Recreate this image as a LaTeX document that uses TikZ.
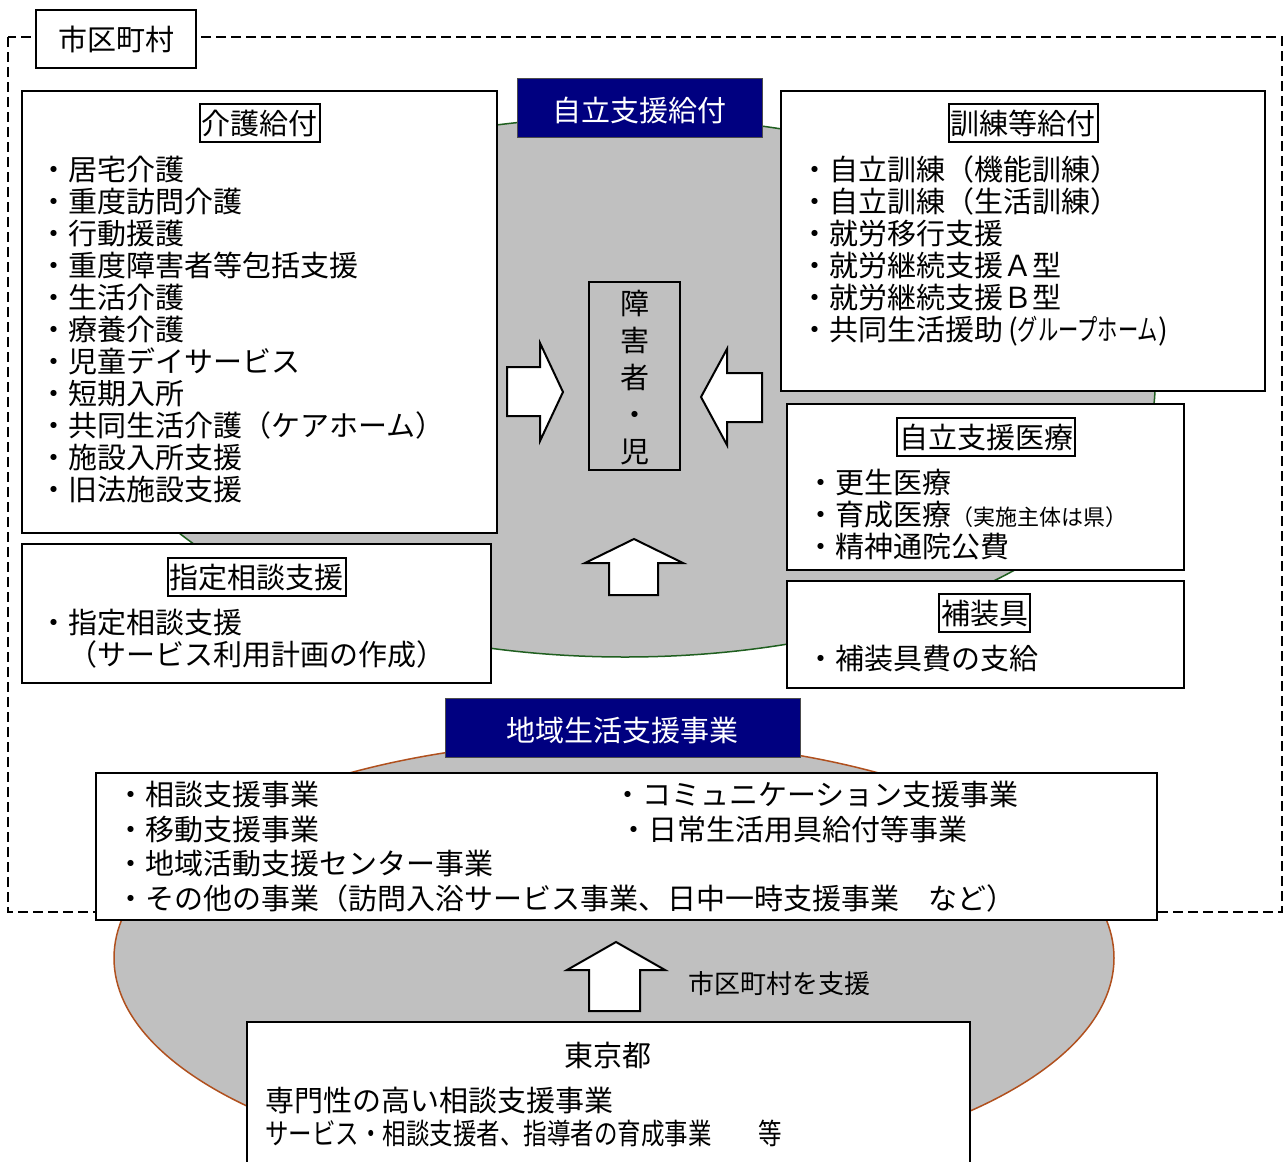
\documentclass[tikz,border=0pt]{standalone}
\usepackage{fontspec}
\setmainfont{Noto Sans CJK JP}
\usepackage{graphicx}
\definecolor{navybg}{HTML}{000080}
\definecolor{ellgray}{HTML}{C0C0C0}
\definecolor{ellgreen}{HTML}{1F5F1F}
\definecolor{ellbrown}{HTML}{B0501E}
\newcommand{\fsN}{\fontsize{29}{32}\selectfont}
\newcommand{\fsS}{\fontsize{22}{22}\selectfont}
\tikzset{
  frame/.style={draw, line width=2pt, fill=white, inner sep=0pt},
  ttl/.style={draw, line width=2pt, inner xsep=2pt, inner ysep=4.5pt, font=\fsN, text height=25.5pt, text depth=3.5pt},
  item/.style={anchor=west, inner sep=0pt, font=\fsN, text height=25.5pt, text depth=3.5pt},
  navybox/.style={draw=black!70, line width=1pt, fill=navybg, text=white, font=\fsN, inner sep=0pt},
  bigarrow/.style={draw, line width=2pt, fill=white, line join=miter},
}
\begin{document}
\begin{tikzpicture}[x=1pt,y=-1pt]
\useasboundingbox (0,0) rectangle (1288,1162);
\clip (0,0) rectangle (1288,1162);
\fill[white] (0,0) rectangle (1288,1162);

% outer dashed frame
\draw[line width=1.5pt, dash pattern=on 10pt off 5pt] (8,37) rectangle (1282,912);

% ellipses
\filldraw[fill=ellgray, draw=ellgreen, line width=1.5pt] (625,387) ellipse [x radius=530, y radius=270];
\filldraw[fill=ellgray, draw=ellbrown, line width=1.5pt] (614,958) ellipse [x radius=500, y radius=218];

% municipality label
\node[frame, minimum width=160pt, minimum height=58pt, font=\fsN] (city) at (116,39) {市区町村};

% navy headers
\node[navybox, minimum width=245pt, minimum height=59pt] (jiritsu) at (639.5,107.5) {};
\node[text=white, font=\fsN, inner sep=0pt] (jiritsuT) at (639.5,110) {自立支援給付};
\node[navybox, minimum width=355pt, minimum height=59pt] (chiiki) at (622.5,727.5) {};
\node[text=white, font=\fsN, inner sep=0pt] (chiikiT) at (622.5,731) {地域生活支援事業};

% left box: kaigo kyufu
\node[frame, minimum width=475pt, minimum height=442pt] (kaigo) at (259.5,312) {};
\node[ttl] (kaigoT) at (259.5,123) {介護給付};
\node[item] (k1) at (39,169) {・居宅介護};
\node[item] (k2) at (39,201) {・重度訪問介護};
\node[item] (k3) at (39,233) {・行動援護};
\node[item] (k4) at (39,265) {・重度障害者等包括支援};
\node[item] (k5) at (39,297) {・生活介護};
\node[item] (k6) at (39,329) {・療養介護};
\node[item] (k7) at (39,361) {・児童デイサービス};
\node[item] (k8) at (39,393) {・短期入所};
\node[item] (k9) at (39,425) {・共同生活介護（ケアホーム）};
\node[item] (k10) at (39,457) {・施設入所支援};
\node[item] (k11) at (39,489) {・旧法施設支援};

% right box: kunren
\node[frame, minimum width=484pt, minimum height=300pt] (kunren) at (1023,241) {};
\node[ttl] (kunrenT) at (1023,123) {訓練等給付};
\node[item] (r1) at (800,169) {・自立訓練（機能訓練）};
\node[item] (r2) at (800,201) {・自立訓練（生活訓練）};
\node[item] (r3) at (800,233) {・就労移行支援};
\node[item] (r4) at (800,265) {・就労継続支援Ａ型};
\node[item] (r5) at (800,297) {・就労継続支援Ｂ型};
\node[item] (r6) at (800,329) {・共同生活援助\,(\scalebox{0.7}[1]{グループホーム})};

% iryo
\node[frame, minimum width=397pt, minimum height=166pt] (iryo) at (985.5,487) {};
\node[ttl] (iryoT) at (986,437) {自立支援医療};
\node[item] (m1) at (806,482) {・更生医療};
\node[item] (m2) at (806,514) {・育成医療{\fsS（実施主体は県）}};
\node[item] (m3) at (806,546) {・精神通院公費};

% hosogu
\node[frame, minimum width=397pt, minimum height=107pt] (hosogu) at (985.5,634.5) {};
\node[ttl] (hosoguT) at (984.5,613) {補装具};
\node[item] (h1) at (806,658) {・補装具費の支給};

% shitei sodan
\node[frame, minimum width=469pt, minimum height=139pt] (shitei) at (256.5,613.5) {};
\node[ttl] (shiteiT) at (256.5,577) {指定相談支援};
\node[item] (s1) at (39,622) {・指定相談支援};
\node[item] (s2) at (68,654) {（サービス利用計画の作成）};

% person box
\node[draw, line width=1.5pt, minimum width=91pt, minimum height=188pt, inner sep=0pt] (pbox) at (634.5,376) {};
\node[align=center, font=\fontsize{29}{37}\selectfont, inner sep=0pt] (ptext) at (634.5,378) {障\\害\\者\\・\\児};

% arrows into person box
\draw[bigarrow] (507,367) -- (540,367) -- (540,343) -- (563,392) -- (540,441) -- (540,416) -- (507,416) -- cycle;
\draw[bigarrow] (762,373) -- (727,373) -- (727,349) -- (701,397) -- (727,445) -- (727,422) -- (762,422) -- cycle;
\draw[bigarrow] (609,595) -- (609,563) -- (585,563) -- (634,539) -- (683,563) -- (658,563) -- (658,595) -- cycle;

% lower box
\node[frame, minimum width=1061pt, minimum height=147pt] (lower) at (626.5,846.5) {};
\node[item] (l1) at (116,794) {・相談支援事業};
\node[item] (l2) at (116,829) {・移動支援事業};
\node[item] (l3) at (116,863) {・地域活動支援センター事業};
\node[item] (l4) at (116,898) {・その他の事業（訪問入浴サービス事業、日中一時支援事業　など）};
\node[item] (l5) at (613,794) {・コミュニケーション支援事業};
\node[item] (l6) at (619,829) {・日常生活用具給付等事業};

% support arrow
\draw[bigarrow] (589,1011) -- (589,970) -- (567,970) -- (616,942) -- (665,970) -- (640,970) -- (640,1011) -- cycle;
\node[item, font=\fontsize{26}{28}\selectfont, text height=23pt, text depth=3pt] (support) at (688,983) {市区町村を支援};

% Tokyo box
\node[frame, minimum width=723pt, minimum height=160pt] (tokyo) at (608.5,1102) {};
\node[inner sep=0pt, font=\fsN, text height=25.5pt, text depth=3.5pt] (tokyoT) at (608,1055) {東京都};
\node[item] (t1) at (265,1100) {専門性の高い相談支援事業};
\node[item] (t2) at (265,1133) {\scalebox{0.81}[1]{サービス・相談支援者、指導者の育成事業　　等}};
\end{tikzpicture}
\end{document}
